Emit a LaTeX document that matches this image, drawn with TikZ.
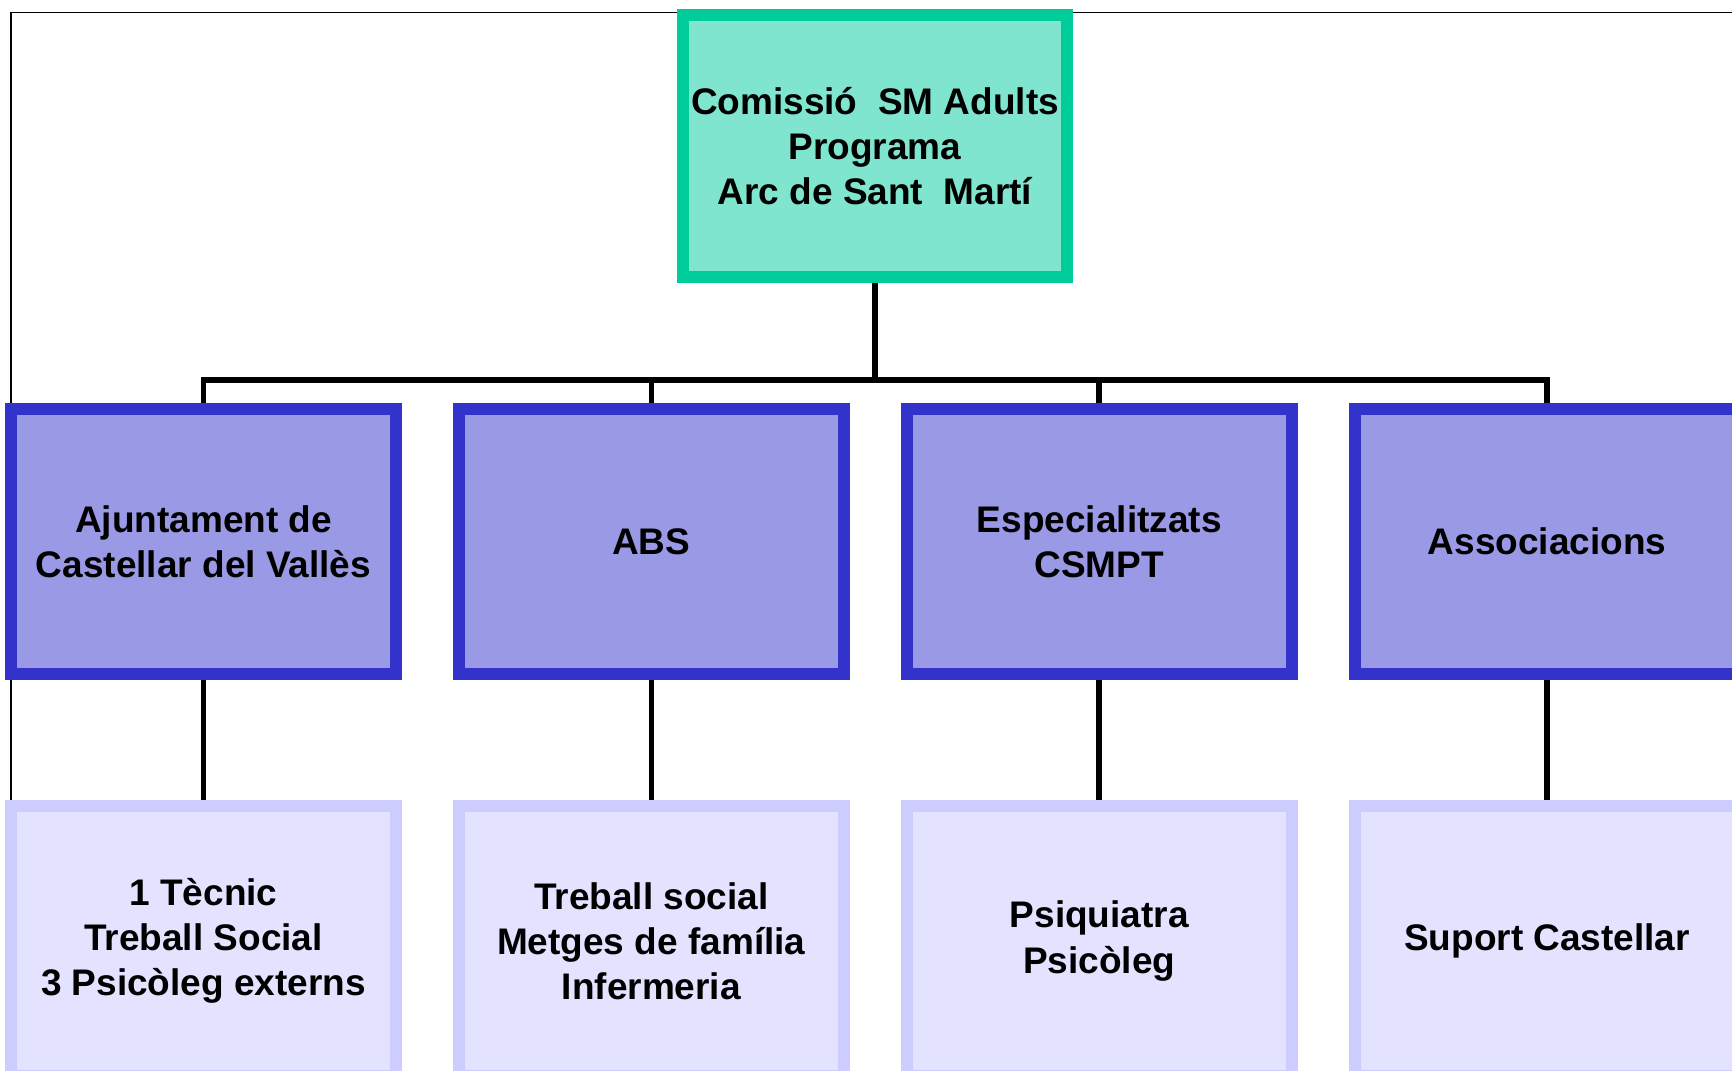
\documentclass[tikz,border=0pt]{standalone}
\usepackage{fontspec}
\setmainfont{Liberation Sans}
\usetikzlibrary{backgrounds}
\definecolor{grBorder}{HTML}{00CC99}
\definecolor{grFill}{HTML}{80E5CF}
\definecolor{blBorder}{HTML}{3333CC}
\definecolor{blFill}{HTML}{9999E5}
\definecolor{ltBorder}{HTML}{CCCCFF}
\definecolor{ltFill}{HTML}{E3E3FF}
\tikzset{
  boxtext/.style={align=center,inner sep=0pt,font=\fontsize{18.5}{22.5}\selectfont\bfseries},
  topbox/.style={boxtext,draw=grBorder,fill=grFill,line width=6pt,minimum width=192pt,minimum height=131pt},
  midbox/.style={boxtext,draw=blBorder,fill=blFill,line width=6pt,minimum width=192.5pt,minimum height=132.5pt},
  lowbox/.style={boxtext,draw=ltBorder,fill=ltFill,line width=6pt,minimum width=192.5pt,minimum height=135pt},
  conn/.style={draw=black,line width=2.8pt},
  frameline/.style={draw=black,line width=0.8pt}
}
\begin{document}
\begin{tikzpicture}[x=0.5pt,y=-0.5pt]
\path[use as bounding box,clip] (0,0) rectangle (1732,1070);
\node[topbox] (top) at (875,146) {Comissió~ SM Adults\\Programa\\Arc de Sant~ Martí};
\node[midbox] (b1) at (203.5,541.5) {Ajuntament de\\Castellar del Vallès};
\node[midbox] (b2) at (651.3,541.5) {ABS};
\node[midbox] (b3) at (1099.2,541.5) {Especialitzats\\CSMPT};
\node[midbox] (b4) at (1547,541.5) {Associacions};
\node[lowbox] (c1) at (203.5,941) {1 Tècnic\\Treball Social\\3 Psicòleg externs};
\node[lowbox] (c2) at (651.3,941) {Treball social\\Metges de família\\Infermeria};
\node[lowbox] (c3) at (1099.2,941) {Psiquiatra\\Psicòleg};
\node[lowbox] (c4) at (1547,941) {Suport Castellar};
\coordinate (hub) at (875,380);
\coordinate (fbl) at (11,1070);
\coordinate (ftl) at (11,12.5);
\coordinate (ftr) at (1732,12.5);
\begin{scope}[on background layer]
  \draw[frameline] (fbl) -- (ftl) -- (ftr);
  \draw[conn] (top.south) -- (hub);
  \draw[conn] (b1.north) |- (hub);
  \draw[conn] (b2.north) |- (hub);
  \draw[conn] (b3.north) |- (hub);
  \draw[conn] (b4.north) |- (hub);
  \draw[conn] (b1.south) -- (c1.north);
  \draw[conn] (b2.south) -- (c2.north);
  \draw[conn] (b3.south) -- (c3.north);
  \draw[conn] (b4.south) -- (c4.north);
\end{scope}
\end{tikzpicture}
\end{document}
